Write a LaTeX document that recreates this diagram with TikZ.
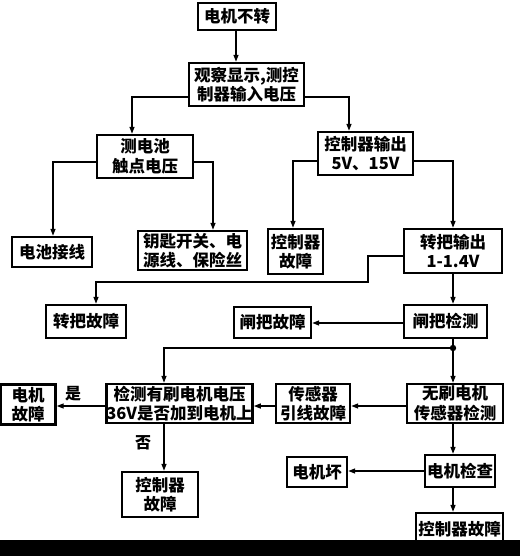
\documentclass[tikz,border=0pt]{standalone}
\usepackage{fontspec}
\setmainfont{Noto Sans CJK SC}[BoldFont={Noto Sans CJK SC Black}]
\usetikzlibrary{arrows.meta,calc}
\tikzset{
  bx/.style={draw=black, line width=2.4pt, fill=white, inner sep=0pt, align=center,
    font=\fontsize{16.5}{19.5}\selectfont\bfseries},
  con/.style={line width=1.4pt, -{Triangle[length=7pt,width=5pt]}},
  lbl/.style={font=\fontsize{16}{19}\selectfont\bfseries, inner sep=0pt}
}
\newcommand{\bxat}[6]{\node[bx, minimum width=#4pt, minimum height=#5pt] (#1) at (#2,#3) {#6};}
\begin{document}
\begin{tikzpicture}[x=1pt,y=-1pt]
\useasboundingbox (0,0) rectangle (520,556);
\fill[white] (0,0) rectangle (520,556);
\bxat{n1}{237}{16.5}{78}{27}{电机不转}
\bxat{n2}{246.5}{84.5}{115}{43}{观察显示,测控\\制器输入电压}
\bxat{n3}{145}{156.5}{96}{43}{测电池\\触点电压}
\bxat{n4}{365.5}{153.5}{95}{43}{控制器输出\\5V、15V}
\bxat{n5}{52}{252}{80}{30}{电池接线}
\bxat{n6}{192.5}{250.5}{109}{39}{钥匙开关、电\\源线、保险丝}
\bxat{n7}{295.5}{251.5}{55}{45}{控制器\\故障}
\bxat{n8}{453}{251}{98}{44}{转把输出\\1-1.4V}
\bxat{n9}{86}{321.5}{80}{33}{转把故障}
\bxat{n10}{445.5}{321.5}{83}{33}{闸把检测}
\bxat{n11}{272.5}{322.5}{77}{31}{闸把故障}
\bxat{n12}{455}{403.5}{96}{39}{无刷电机\\传感器检测}
\bxat{n13}{313}{403.5}{74}{39}{传感器\\引线故障}
\bxat{n14}{179.5}{403.5}{145}{39}{检测有刷电机电压\\36V是否加到电机上}
\bxat{n15}{28}{404.5}{55}{40}{电机\\故障}
\bxat{n16}{160}{494.5}{76}{45}{控制器\\故障}
\bxat{n17}{460}{471}{70}{32}{电机检查}
\bxat{n18}{317}{472}{60}{30}{电机坏}
\bxat{n19}{459.5}{529}{87}{32}{控制器故障}
\coordinate (dot) at (453,348);
\coordinate (j1) at (368,282);
% connectors
\draw[con] (n1.south -| 236,0) -- (n2.north -| 236,0);
\draw[con] (n2.west |- 0,97) -| (n3.north -| 132,0);
\draw[con] (n2.east |- 0,97) -| (n4.north -| 349,0);
\draw[con] (n3.west |- 0,162) -| (n5.north -| 53,0);
\draw[con] (n3.east |- 0,162) -| (n6.north -| 213,0);
\draw[con] (n4.west |- 0,161) -| (n7.north -| 293,0);
\draw[con] (n4.east |- 0,161) -| (n8.north);
\draw[con] (n8.west |- 0,256) -| (j1) -| (n9.north -| 96,0);
\draw[con] (n8.south) -- (n10.north -| n8.south);
\draw[con] (n10.west |- 0,323) -- (n11.east |- 0,323);
\draw[line width=1.4pt] (n10.south -| dot) -- (dot);
\fill (dot) circle (3.2pt);
\draw[con] (dot) -- (n12.north -| dot);
\draw[con] (dot) -| (n14.north -| 164,0);
\draw[con] (n12.west |- 0,406) -- (n13.east |- 0,406);
\draw[con] (n13.west |- 0,406) -- (n14.east |- 0,406);
\draw[con] (n14.west |- 0,406) -- (n15.east |- 0,406);
\draw[con] (n14.south -| 164,0) -- (n16.north -| 164,0);
\draw[con] (n12.south -| dot) -- (n17.north -| dot);
\draw[con] (n17.west) -- (n18.east |- n17.west);
\draw[con] (n17.south -| dot) -- (n19.north -| dot);
\node[lbl] (yes) at (73,394) {是};
\node[lbl] (no) at (143,443) {否};
\fill[black] (0,540) rectangle (520,556);
\end{tikzpicture}
\end{document}
